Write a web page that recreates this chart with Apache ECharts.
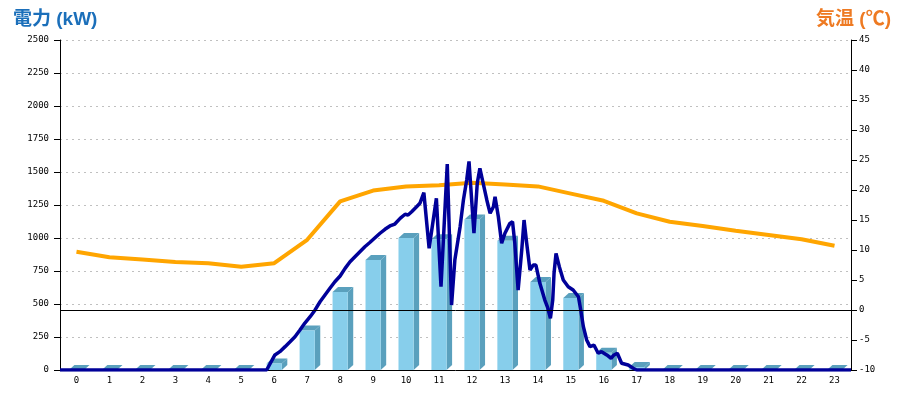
<!DOCTYPE html>
<html>
<head>
<meta charset="utf-8">
<script src="https://cdn.jsdelivr.net/npm/echarts@6/dist/echarts.min.js"></script>
<style>html,body{margin:0;padding:0;background:#fff}#c{width:900px;height:400px}</style>
</head>
<body>
<div id="c"></div>
<script>
// ---- data ----
const hours = ['0','1','2','3','4','5','6','7','8','9','10','11','12','13','14','15','16','17','18','19','20','21','22','23'];
const hourlyEnergy = [0,0,0,0,0,0,50,300,590,833,1000,990,1140,980,667,545,130,22,0,0,0,0,0,0];
const temperature = [9.7,8.8,8.4,8.0,7.8,7.2,7.8,11.7,18.1,19.9,20.6,20.8,21.2,20.9,20.6,19.4,18.2,16.1,14.7,14.0,13.2,12.5,11.8,10.7];
const powerTime = [0,6.27,6.52,6.67,6.83,6.98,7.13,7.28,7.43,7.59,7.74,7.89,8.04,8.19,8.34,8.50,8.65,8.80,8.95,9.10,9.25,9.40,9.55,9.71,9.86,10.01,10.16,10.32,10.47,10.56,10.67,10.82,10.92,11.04,11.20,11.42,11.56,11.75,11.88,11.98,12.14,12.24,12.34,12.41,12.49,12.56,12.66,12.74,12.84,12.95,13.05,13.15,13.20,13.30,13.40,13.50,13.65,13.73,13.80,13.90,14.01,14.08,14.16,14.26,14.36,14.44,14.56,14.71,14.80,14.88,14.95,14.99,15.05,15.15,15.27,15.42,15.57,15.73,15.80,15.88,15.98,16.08,16.20,16.33,16.43,16.59,16.72,16.81,16.91,17.04,17.24,17.39,17.50,24];
const powerKW = [0,0,114,139,177,214,252,303,356,404,455,517,568,619,669,712,770,820,858,896,934,966,1000,1036,1066,1091,1106,1149,1180,1174,1199,1237,1263,1343,922,1301,631,1560,492,833,1086,1288,1439,1580,1288,1036,1414,1528,1414,1288,1187,1237,1313,1161,960,1036,1111,1124,960,606,909,1136,960,758,795,795,657,530,470,392,530,733,884,783,682,631,606,555,455,328,227,177,189,127,139,114,89,114,127,51,38,13,0,0];
const leftTitle = '電力 (kW)';
const rightTitle = '気温 (℃)';

// ---- chart ----
const chart = echarts.init(document.getElementById('c'), null, {renderer:'canvas'});
const tickFont = {fontFamily:'DejaVu Sans Mono', fontSize:9, color:'#000'};

function render3DBar(params, api) {
  const c = api.value(0), v = api.value(1);
  const top = api.coord([c, v]);
  const bot = api.coord([c, 0]);
  const bw = api.size([1, 0])[0] * 0.46;
  const x0 = top[0] - bw / 2, x1 = top[0] + bw / 2;
  const dx = 5.5, dy = 5;
  return {
    type: 'group',
    children: [
      {type:'polygon', shape:{points:[[x1,top[1]],[x1+dx,top[1]-dy],[x1+dx,bot[1]-dy],[x1,bot[1]]]}, style:{fill:'#5aa0bd'}},
      {type:'polygon', shape:{points:[[x0,top[1]],[x0+dx,top[1]-dy],[x1+dx,top[1]-dy],[x1,top[1]]]}, style:{fill:'#5aa0bd'}},
      {type:'rect', shape:{x:x0, y:top[1], width:bw, height:bot[1]-top[1]}, style:{fill:'#87CEEB'}}
    ]
  };
}

chart.setOption({
  animation: false,
  backgroundColor: '#fff',
  title: [
    {text: leftTitle, left: 8, top: 5, textStyle: {color:'#1b6fba', fontSize:19, fontWeight:'bold', fontFamily:'Liberation Sans, Noto Sans CJK JP'}},
    {text: rightTitle, right: 4, top: 5, textStyle: {color:'#ee7a22', fontSize:19, fontWeight:'bold', fontFamily:'Liberation Sans, Noto Sans CJK JP'}}
  ],
  grid: {left: 60, right: 49, top: 40, bottom: 30, containLabel: false},
  xAxis: [
    {type:'category', data: hours, boundaryGap: true,
     axisLine:{show:true, lineStyle:{color:'#000', width:1}}, axisTick:{show:false},
     axisLabel:Object.assign({margin:6}, tickFont), splitLine:{show:false}},
    {type:'value', min:0, max:24, show:false}
  ],
  yAxis: [
    {type:'value', min:0, max:2500, interval:250, position:'left',
     axisLine:{show:true, lineStyle:{color:'#000'}}, axisTick:{show:true, length:6, lineStyle:{color:'#000'}},
     axisLabel:Object.assign({margin:11, formatter: v => String(v)}, tickFont),
     splitLine:{show:true, lineStyle:{color:'#c0c0c0', type:[2,4], width:1}}},
    {type:'value', min:-10, max:45, interval:5, position:'right',
     axisLine:{show:true, lineStyle:{color:'#000'}}, axisTick:{show:true, length:6, lineStyle:{color:'#000'}},
     axisLabel:Object.assign({margin:8, formatter: v => String(v)}, tickFont),
     splitLine:{show:false}}
  ],
  series: [
    {type:'custom', xAxisIndex:0, yAxisIndex:0, renderItem: render3DBar,
     data: hourlyEnergy.map((v,i)=>[i,v]), encode:{x:0, y:1}, z:2},
    {type:'line', xAxisIndex:0, yAxisIndex:1, data: temperature, showSymbol:false, symbol:'none',
     lineStyle:{color:'#ffa500', width:4}, z:3,
     markLine:{silent:true, symbol:'none', label:{show:false}, lineStyle:{color:'#000', width:1, type:'solid'}, data:[{yAxis:0}]}},
    {type:'line', xAxisIndex:1, yAxisIndex:0, data: powerTime.map((t,i)=>[t, powerKW[i]]), showSymbol:false, symbol:'none',
     lineStyle:{color:'#000099', width:3.5}, z:4}
  ]
});
</script>
</body>
</html>
